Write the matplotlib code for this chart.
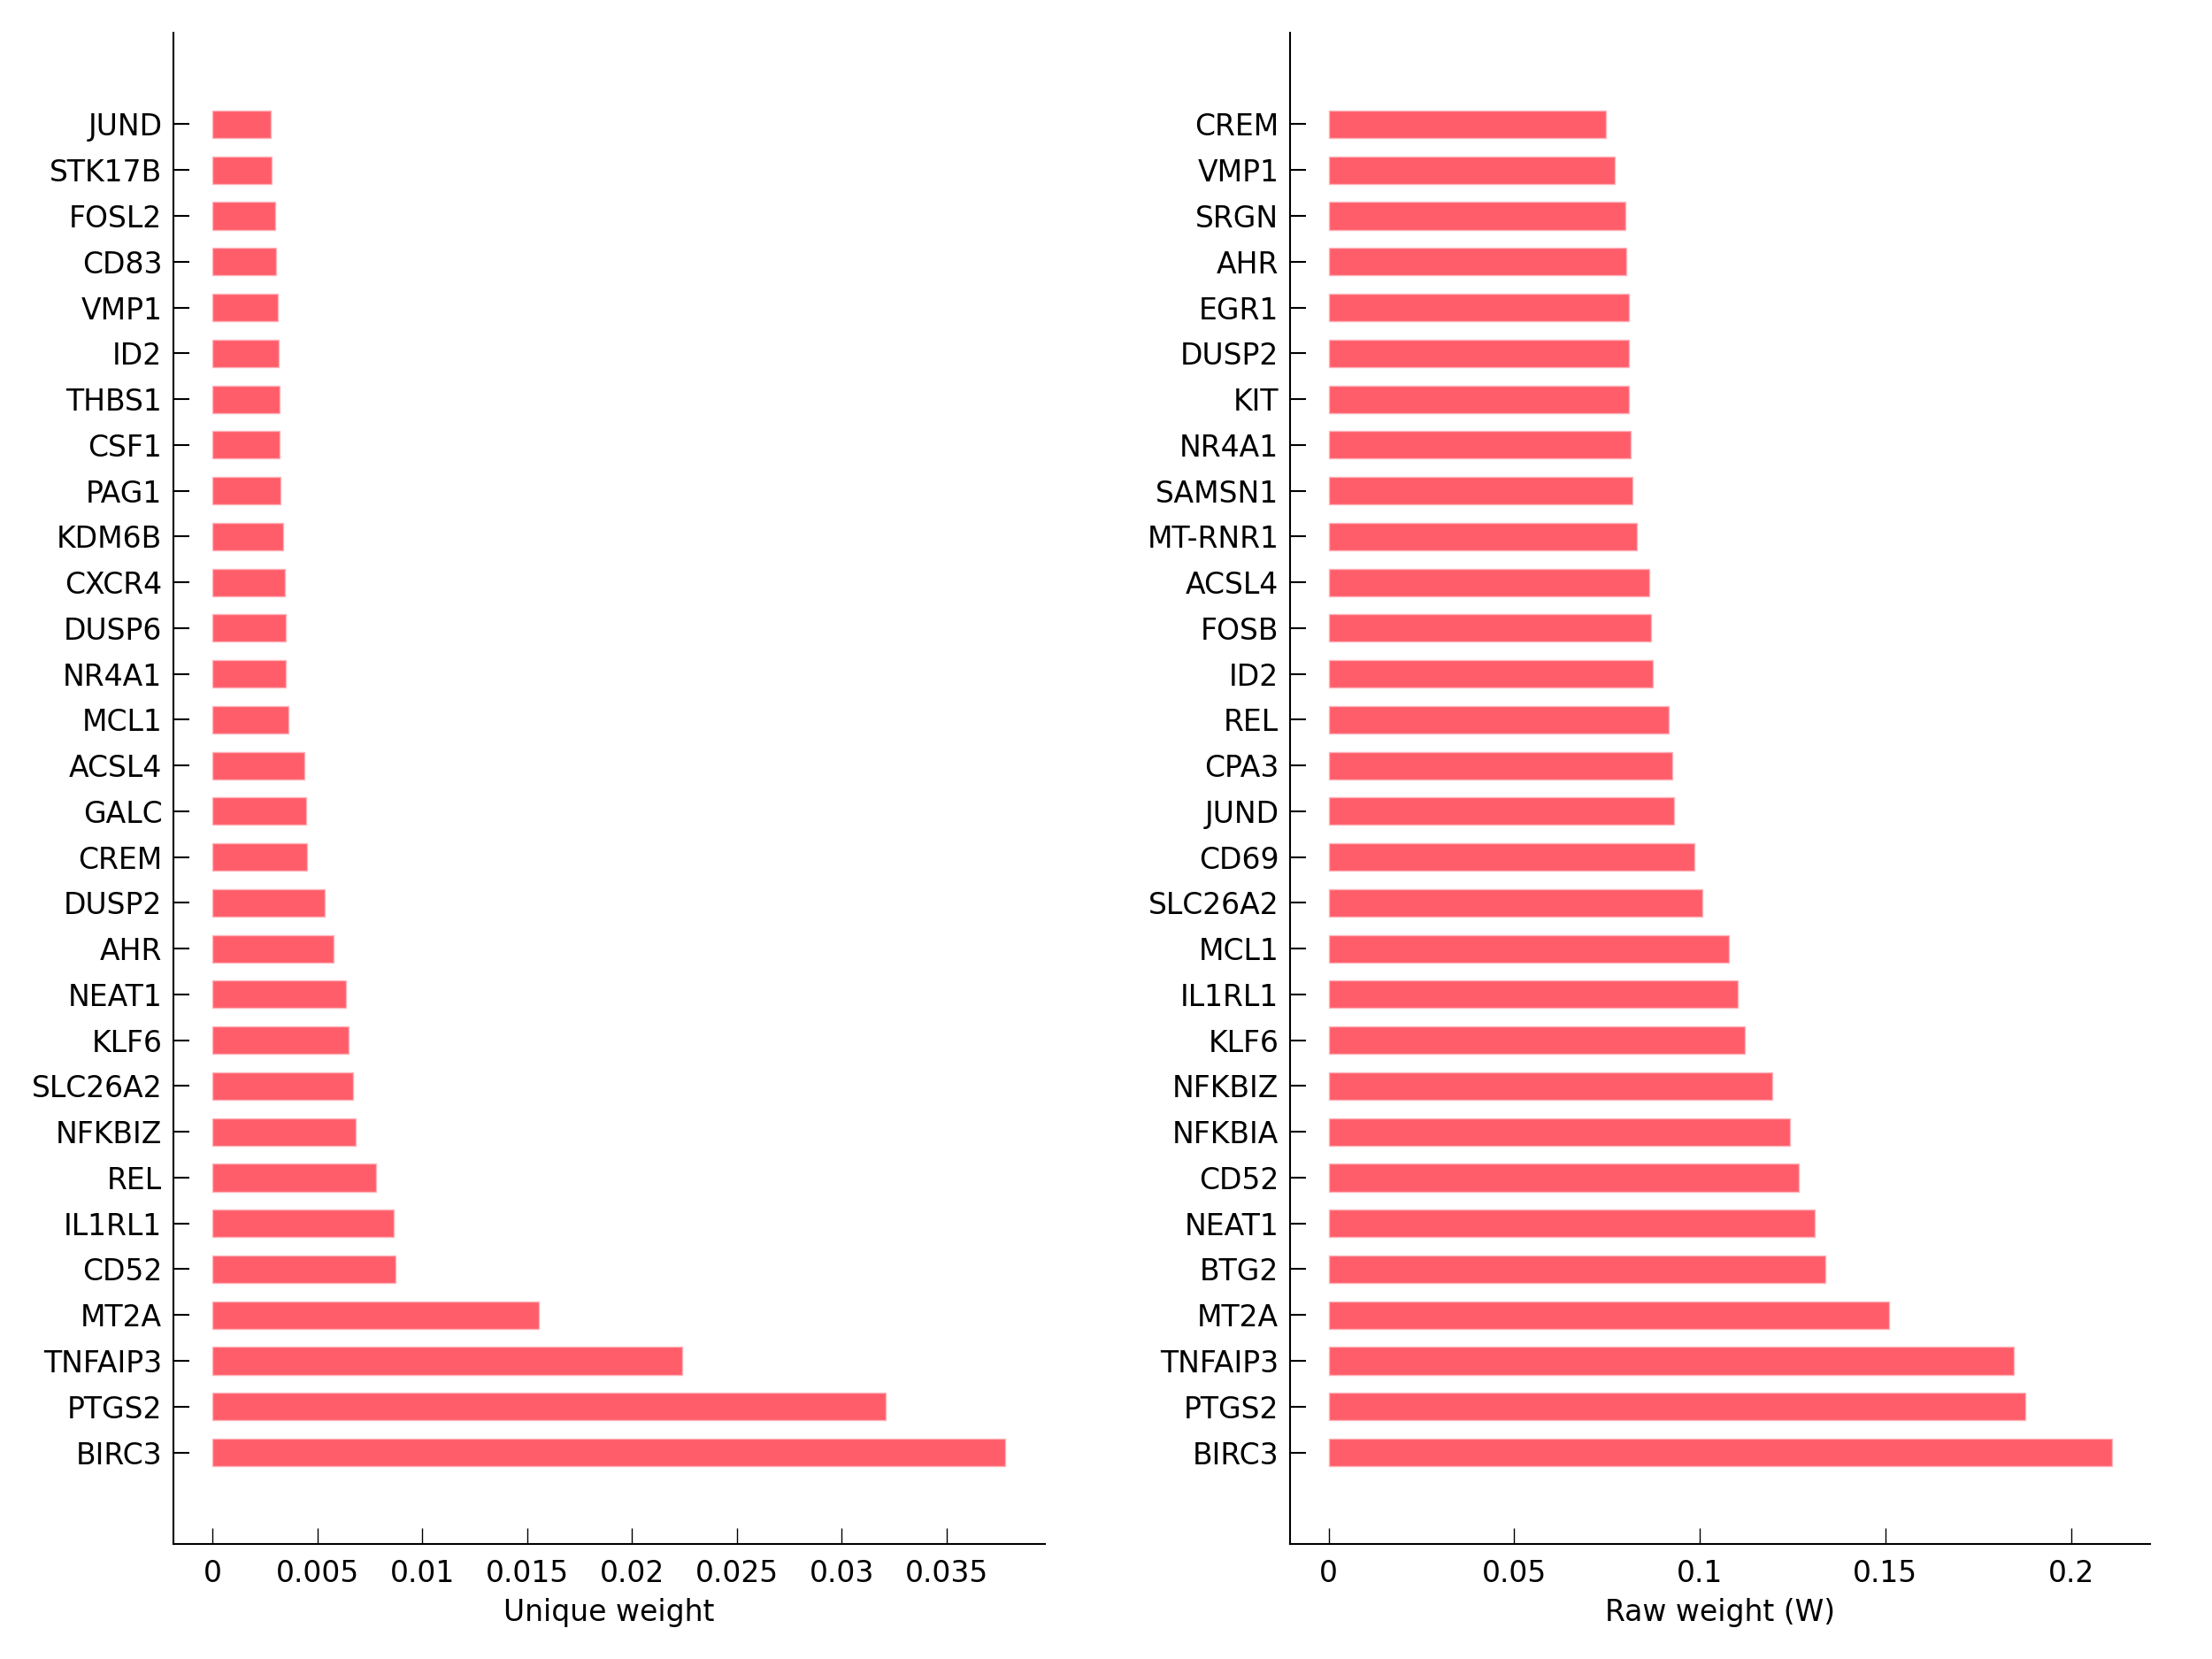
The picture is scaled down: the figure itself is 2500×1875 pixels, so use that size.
"""Two-panel horizontal bar chart of per-gene unique and raw weights."""

import matplotlib

matplotlib.use("Agg")
import matplotlib.pyplot as plt
import numpy as np
from matplotlib.ticker import FuncFormatter

# left panel: unique weight (top to bottom)
unique_genes = [
    "JUND", "STK17B", "FOSL2", "CD83", "VMP1", "ID2", "THBS1", "CSF1", "PAG1",
    "KDM6B", "CXCR4", "DUSP6", "NR4A1", "MCL1", "ACSL4", "GALC", "CREM", "DUSP2",
    "AHR", "NEAT1", "KLF6", "SLC26A2", "NFKBIZ", "REL", "IL1RL1", "CD52", "MT2A",
    "TNFAIP3", "PTGS2", "BIRC3",
]
unique_weight = [
    0.00280, 0.00284, 0.00300, 0.00303, 0.00311, 0.00315, 0.00320, 0.00322, 0.00325,
    0.00339, 0.00345, 0.00348, 0.00350, 0.00362, 0.00438, 0.00445, 0.00450, 0.00535,
    0.00577, 0.00635, 0.00649, 0.00670, 0.00684, 0.00782, 0.00863, 0.00874, 0.01555,
    0.02240, 0.03212, 0.03780,
]

# right panel: raw weight (W)
raw_genes = [
    "CREM", "VMP1", "SRGN", "AHR", "EGR1", "DUSP2", "KIT", "NR4A1", "SAMSN1",
    "MT-RNR1", "ACSL4", "FOSB", "ID2", "REL", "CPA3", "JUND", "CD69", "SLC26A2",
    "MCL1", "IL1RL1", "KLF6", "NFKBIZ", "NFKBIA", "CD52", "NEAT1", "BTG2", "MT2A",
    "TNFAIP3", "PTGS2", "BIRC3",
]
raw_weight = [
    0.0746, 0.0770, 0.0800, 0.0802, 0.0808, 0.0808, 0.0809, 0.0815, 0.0818,
    0.0830, 0.0865, 0.0868, 0.0873, 0.0916, 0.0927, 0.0930, 0.0985, 0.1007,
    0.1078, 0.1102, 0.1122, 0.1195, 0.1244, 0.1266, 0.1310, 0.1339, 0.1511,
    0.1847, 0.1877, 0.2111,
]

BAR_COLOR = "#ff5d6a"
FONT_SIZE = 9.5

plt.rcParams["font.family"] = ["DejaVu Sans"]


def draw_panel(ax, genes, values, xticks, xlim, xlabel):
    ypos = np.arange(len(genes))[::-1]
    ax.barh(ypos, values, height=0.6, color=BAR_COLOR,
            edgecolor="#ffb3ba", linewidth=0.4)
    ax.set_yticks(ypos)
    ax.set_yticklabels(genes, fontsize=FONT_SIZE)
    ax.set_ylim(-2, len(genes) + 1)
    ax.set_xlim(*xlim)
    ax.set_xticks(xticks)
    ax.xaxis.set_major_formatter(FuncFormatter(lambda v, _: f"{v:g}"))
    ax.set_xlabel(xlabel, fontsize=FONT_SIZE, labelpad=3)
    for side in ("top", "right"):
        ax.spines[side].set_visible(False)
    for side in ("left", "bottom"):
        ax.spines[side].set_linewidth(0.6)
    ax.tick_params(axis="x", direction="in", length=5.2, width=0.4,
                   pad=5, labelsize=FONT_SIZE)
    ax.tick_params(axis="y", direction="in", length=5.2, width=0.6,
                   pad=3.5, labelsize=FONT_SIZE)


fig = plt.figure(figsize=(10, 7.5), dpi=250)
ax_left = fig.add_axes([0.0782, 0.0693, 0.3942, 0.911])
ax_right = fig.add_axes([0.583, 0.0693, 0.389, 0.911])

draw_panel(ax_left, unique_genes, unique_weight,
           np.arange(0, 0.0351, 0.005), (-0.00188, 0.0397), "Unique weight")
draw_panel(ax_right, raw_genes, raw_weight,
           np.arange(0, 0.201, 0.05), (-0.0105, 0.2213), "Raw weight (W)")

fig.savefig("out.png", dpi=250)
